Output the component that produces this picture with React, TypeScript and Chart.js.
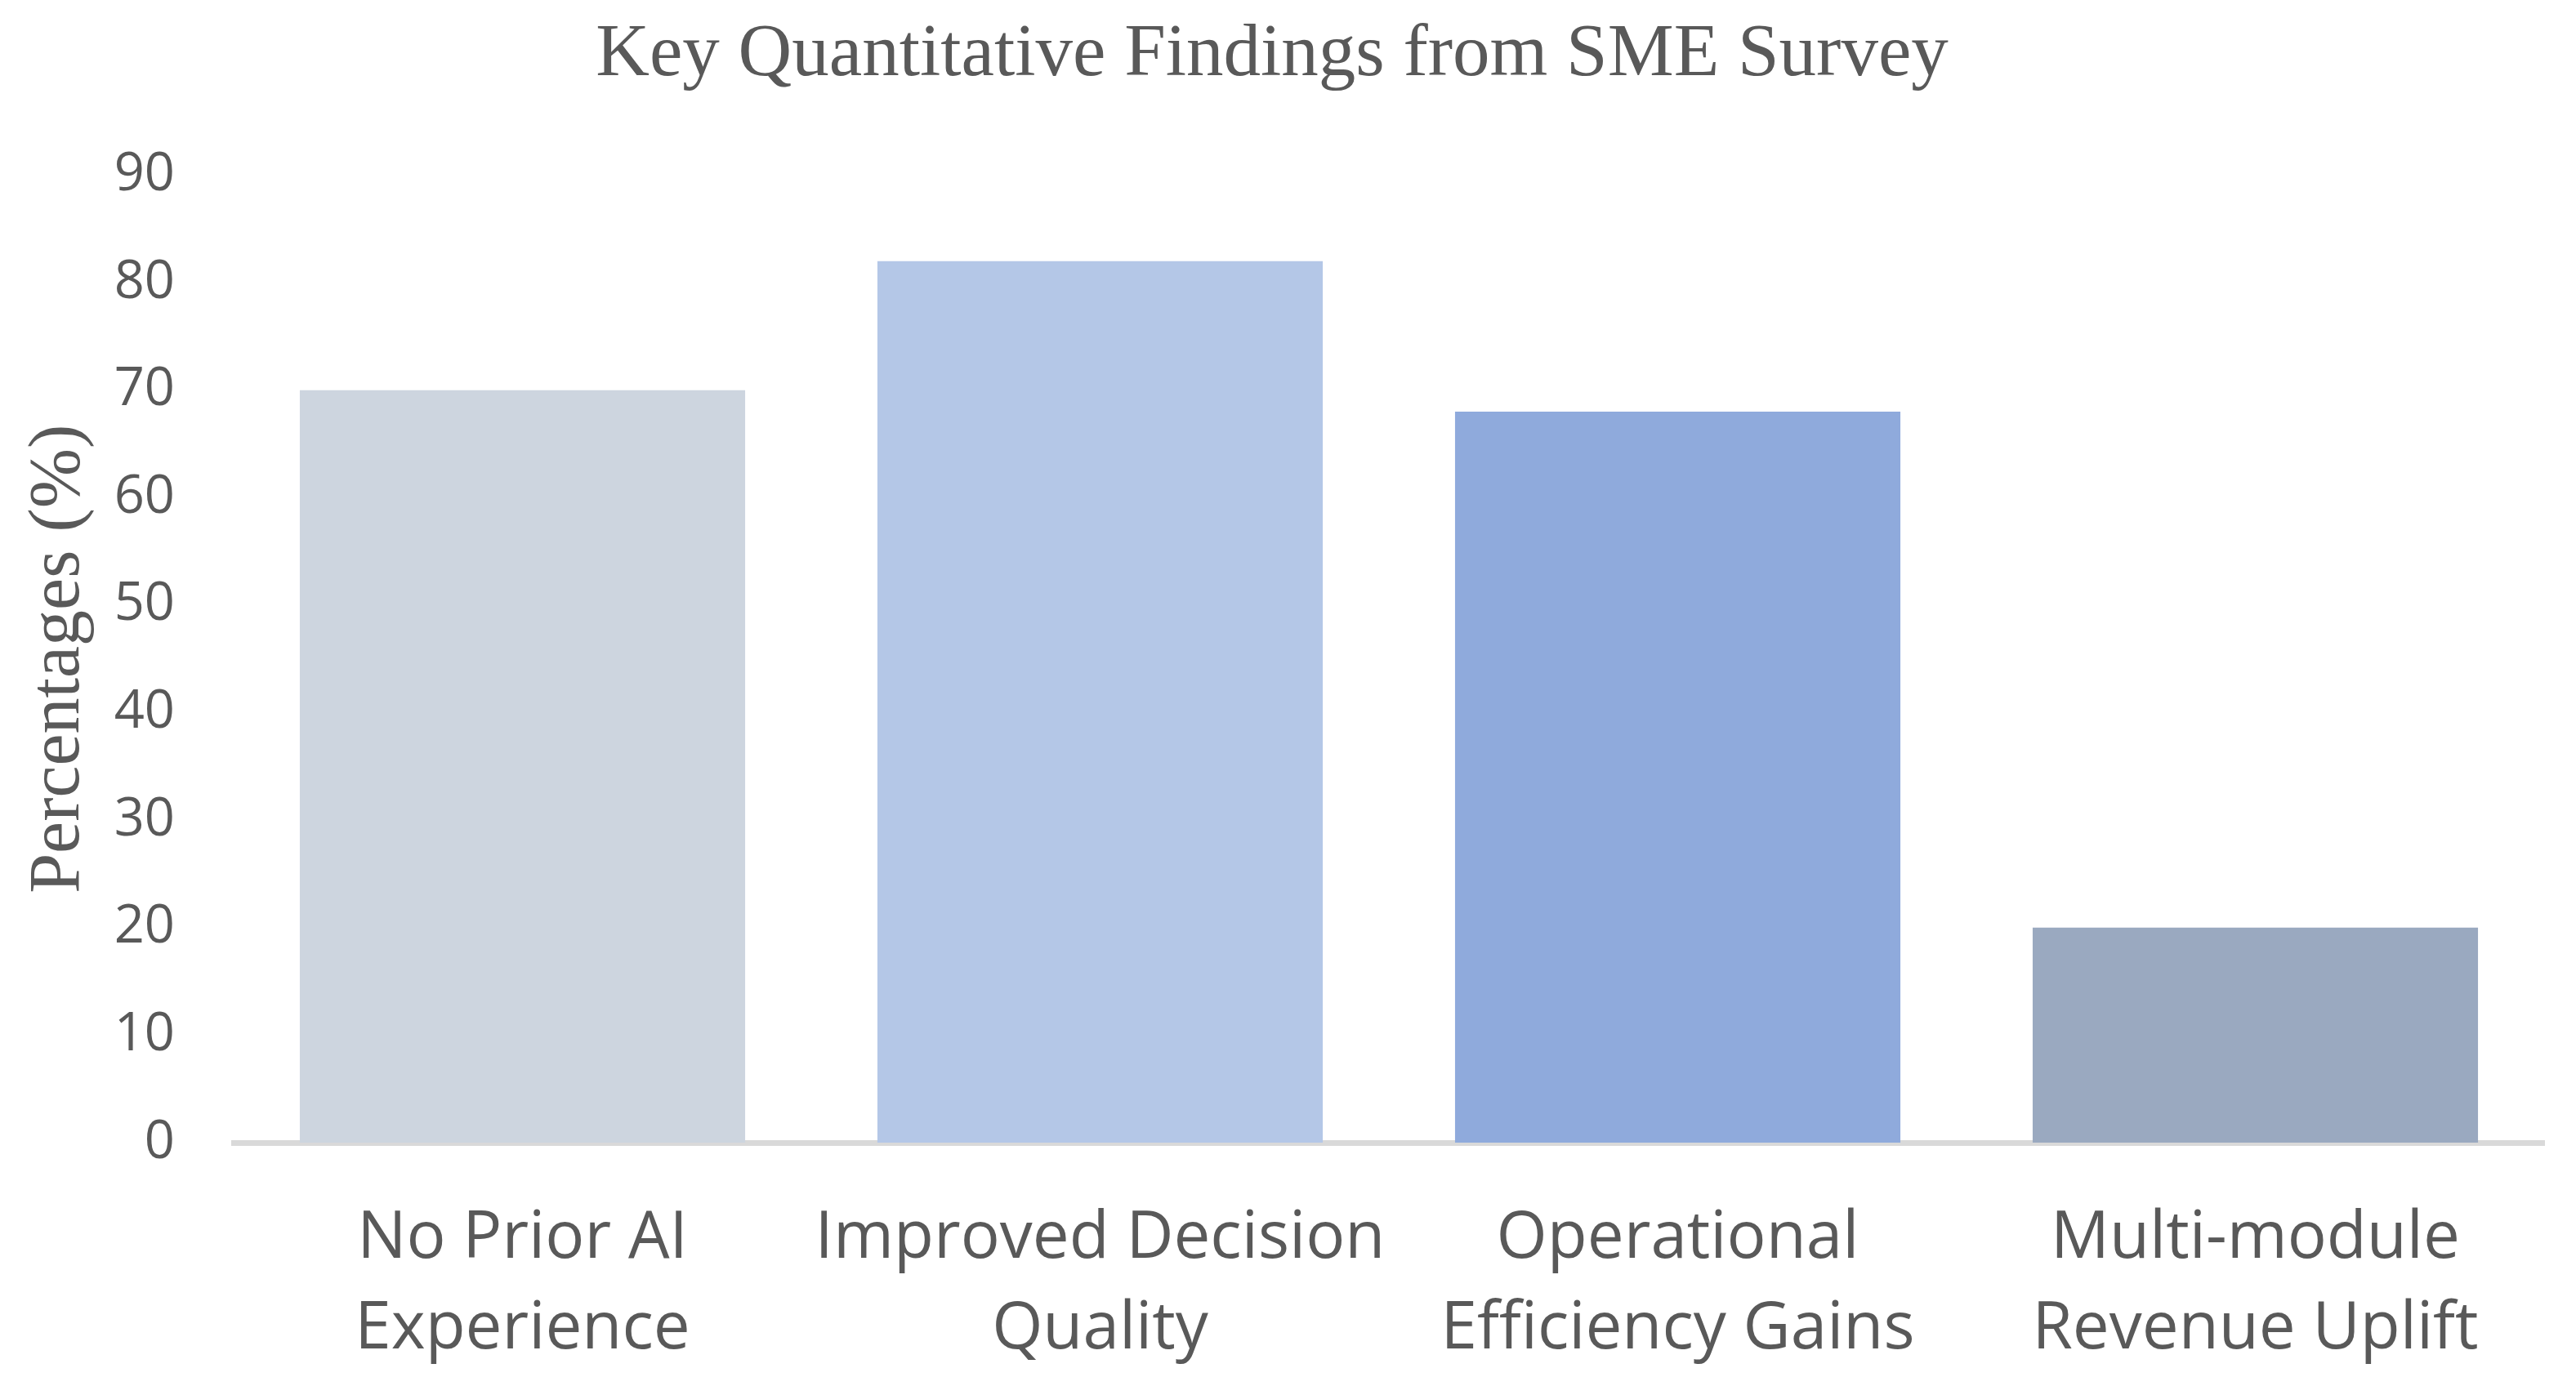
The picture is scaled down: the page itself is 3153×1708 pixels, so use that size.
import React, { useEffect, useRef } from "react";
import { Chart, registerables } from "chart.js";

Chart.register(...registerables);

const categories: string[][] = [
  ["No Prior AI", "Experience"],
  ["Improved Decision", "Quality"],
  ["Operational", "Efficiency Gains"],
  ["Multi-module", "Revenue Uplift"],
];
const percentages: number[] = [70, 82, 68, 20];
const barColors: string[] = ["#CDD5DF", "#B4C7E7", "#8FAADC", "#9AA9C0"];
const yTickMin = 0;
const yTickMax = 90;
const yTickStep = 10;
const chartTitle = "Key Quantitative Findings from SME Survey";
const yAxisTitle = "Percentages (%)";

const W = 3153;
const H = 1708;
const TEXT = "#595959";

export default function App() {
  const ref = useRef<HTMLCanvasElement | null>(null);

  useEffect(() => {
    if (!ref.current) return;
    const chart = new Chart(ref.current, {
      type: "bar",
      data: {
        labels: categories,
        datasets: [
          {
            data: percentages,
            backgroundColor: barColors,
            borderWidth: 0,
            barPercentage: 0.771,
            categoryPercentage: 1,
          },
        ],
      },
      options: {
        responsive: false,
        animation: false,
        devicePixelRatio: 1,
        layout: { padding: { left: 0, right: 39, top: 0, bottom: 0 } },
        plugins: {
          legend: { display: false },
          tooltip: { enabled: false },
          title: {
            display: true,
            text: chartTitle,
            color: TEXT,
            font: { family: "'Liberation Serif', serif", size: 91, weight: "normal", lineHeight: 1.2 },
            padding: { top: 13.4, bottom: 91.9 },
          },
        },
        scales: {
          x: {
            grid: { display: false, drawTicks: false },
            border: { display: true, color: "#D9D9D9", width: 7 },
            ticks: {
              color: TEXT,
              font: { family: "'Open Sans', sans-serif", size: 80, lineHeight: 1.3875 },
              padding: 63,
              maxRotation: 0,
              minRotation: 0,
              autoSkip: false,
            },
            afterFit: (s: any) => {
              s.height = 309;
            },
          },
          y: {
            min: yTickMin,
            max: yTickMax,
            grid: { display: false, drawTicks: false },
            border: { display: false },
            ticks: {
              stepSize: yTickStep,
              color: TEXT,
              font: { family: "'Open Sans', sans-serif", size: 65 },
              padding: 72,
            },
            title: {
              display: true,
              text: yAxisTitle,
              color: TEXT,
              font: { family: "'Liberation Serif', serif", size: 88, weight: "normal", lineHeight: 1.2 },
              padding: { top: 20, bottom: 0 },
            },
            afterFit: (s: any) => {
              s.width = 286;
            },
          },
        },
      },
    });
    return () => chart.destroy();
  }, []);

  return (
    <div style={{ position: "fixed", left: 0, top: 0, width: W, height: H, background: "#fff" }}>
      <canvas ref={ref} width={W} height={H} style={{ width: W, height: H, display: "block" }} />
    </div>
  );
}
